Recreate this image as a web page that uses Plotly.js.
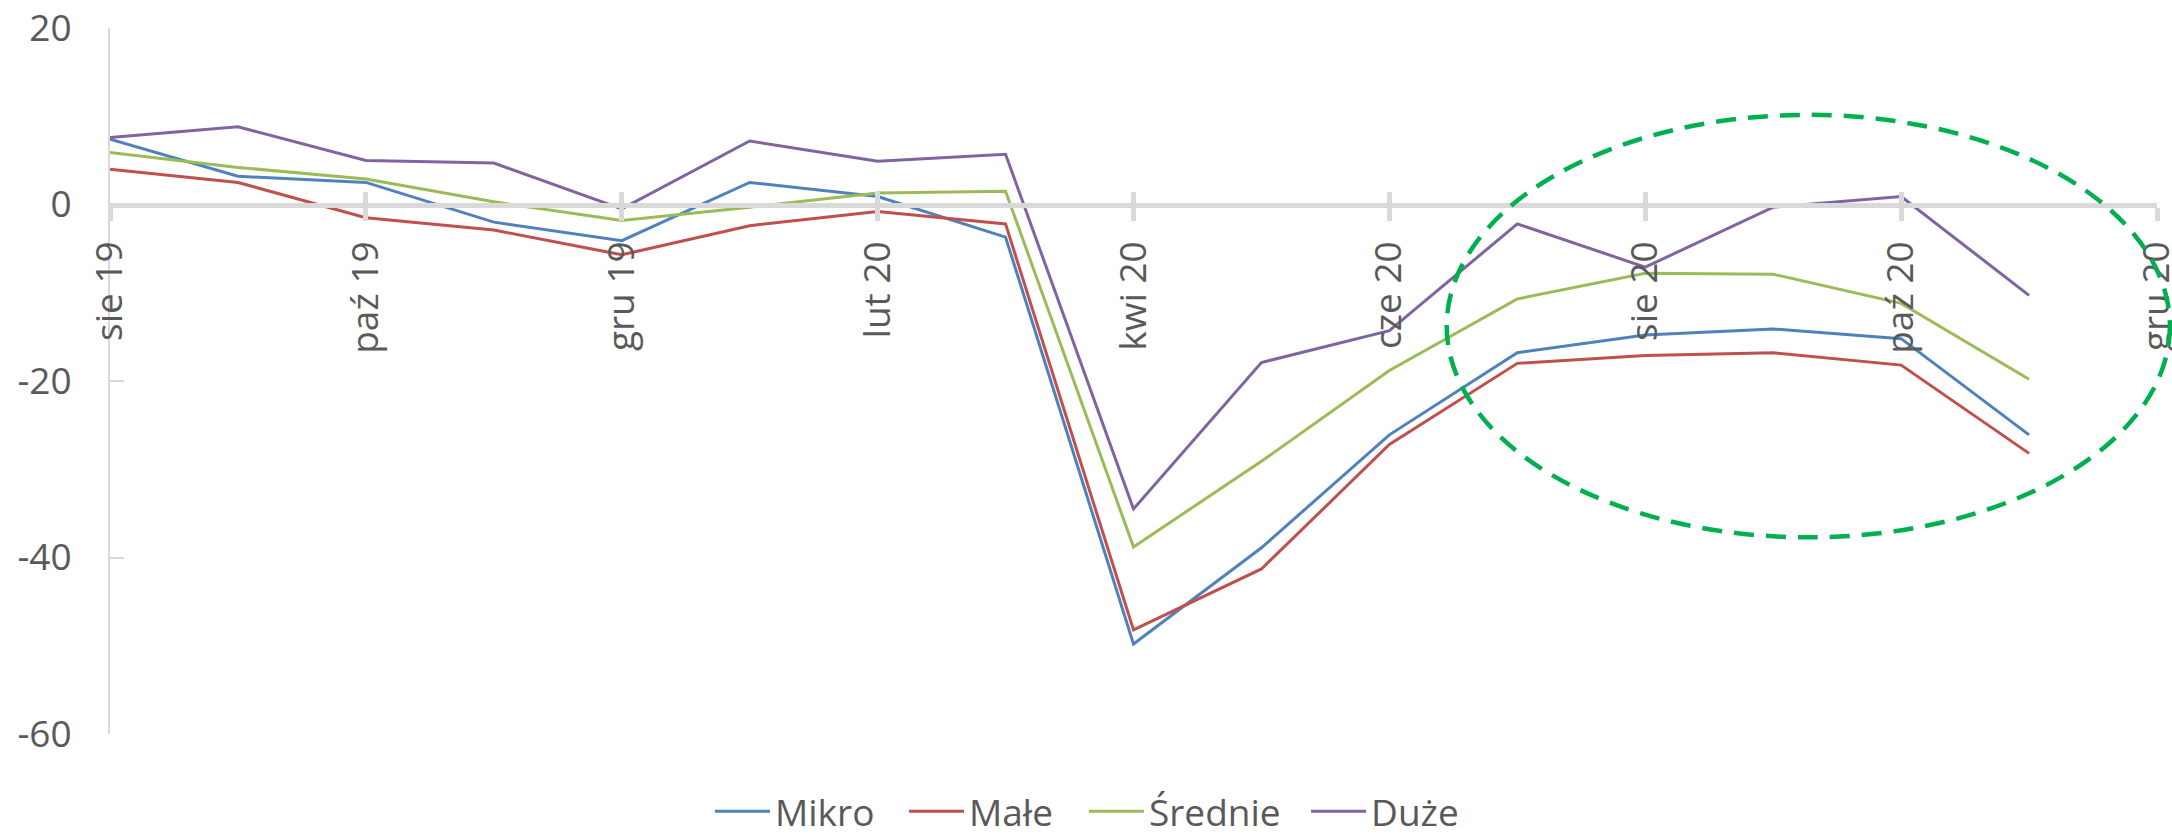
<!DOCTYPE html>
<html>
<head>
<meta charset="utf-8">
<script src="https://cdn.plot.ly/plotly-3.0.1.min.js"></script>
<style>html,body{margin:0;padding:0;background:#fff;}#chart{width:2172px;height:836px;}</style>
</head>
<body>
<div id="chart"></div>
<script>
// Categories (months) with data
const months = ['sie 19','wrz 19','paź 19','lis 19','gru 19','sty 20','lut 20','mar 20','kwi 20','maj 20','cze 20','lip 20','sie 20','wrz 20','paź 20','lis 20'];
// Full axis categories (axis runs to gru 20)
const axisCategories = ['sie 19','wrz 19','paź 19','lis 19','gru 19','sty 20','lut 20','mar 20','kwi 20','maj 20','cze 20','lip 20','sie 20','wrz 20','paź 20','lis 20','gru 20'];
// Tick labels shown on the x axis
const tickLabels = ['sie 19','paź 19','gru 19','lut 20','kwi 20','cze 20','sie 20','paź 20','gru 20'];
// Y axis ticks
const yTickValues = [-60, -40, -20, 0, 20];
const yTickLabels = ['-60', '-40', '-20', '0', '20'];

// Series values
const mikro   = [7.4, 3.2, 2.5, -2.0, -4.1, 2.5, 0.9, -3.7, -49.8, -38.9, -26.1, -16.8, -14.8, -14.1, -15.2, -26.1];
const male    = [4.0, 2.5, -1.5, -2.9, -5.7, -2.4, -0.8, -2.2, -48.2, -41.3, -27.2, -18.0, -17.1, -16.8, -18.2, -28.2];
const srednie = [5.9, 4.2, 2.9, 0.3, -1.8, -0.3, 1.3, 1.5, -38.8, -29.1, -18.8, -10.7, -7.8, -7.9, -11.2, -19.8];
const duze    = [7.6, 8.8, 5.0, 4.7, -0.5, 7.2, 4.9, 5.7, -34.5, -17.9, -14.3, -2.2, -7.1, -0.3, 0.9, -10.3];

const seriesNames = ['Mikro','Małe','Średnie','Duże'];
const seriesColors = ['#4F81BD','#C0504D','#9BBB59','#8064A2'];
const seriesValues = [mikro, male, srednie, duze];

const FONT = '"Open Sans", "Noto Sans", sans-serif';
const GREY = '#595959';
const AXC = '#D9D9D9';

const legendIds = ['legend', 'legend2', 'legend3', 'legend4'];
const legendX = [0.2931, 0.3879, 0.4758, 0.5843];

const traces = seriesValues.map((vals, i) => ({
  type: 'scatter', mode: 'lines',
  x: months, y: vals, name: seriesNames[i],
  line: {color: seriesColors[i], width: 3},
  legend: legendIds[i],
  hoverinfo: 'skip'
}));
// invisible helpers to register all axis categories
traces.unshift({type:'scatter', mode:'lines', x: axisCategories, y: axisCategories.map(() => null),
  showlegend:false, hoverinfo:'skip', line:{width:0}});
traces.push({type:'scatter', mode:'lines', x: axisCategories, y: axisCategories.map(() => null),
  xaxis:'x2', showlegend:false, hoverinfo:'skip', line:{width:0}});

const layout = {
  width: 2172, height: 836,
  margin: {l: 110, r: 15, t: 28, b: 102, autoexpand: false},
  paper_bgcolor: '#fff', plot_bgcolor: '#fff',
  font: {family: FONT, color: GREY, size: 36},
  showlegend: true,
  xaxis: {
    type: 'category', categoryorder: 'array', categoryarray: axisCategories,
    range: [0, 16], anchor: 'free', position: 0.75,
    showline: true, linecolor: AXC, linewidth: 5,
    ticks: 'outside', ticklen: 13, tickwidth: 5, tickcolor: AXC,
    tickmode: 'array', tickvals: tickLabels, ticktext: tickLabels,
    tickangle: -90, tickfont: {family: FONT, size: 37, color: GREY},
    ticklabelstandoff: 6,
    showgrid: false, zeroline: false, automargin: false, fixedrange: true
  },
  xaxis2: {
    type: 'category', categoryorder: 'array', categoryarray: axisCategories,
    range: [0, 16], overlaying: 'x', anchor: 'free', position: 0.75, side: 'bottom',
    showline: false, ticks: 'inside', ticklen: 13, tickwidth: 5, tickcolor: AXC,
    tickmode: 'array', tickvals: tickLabels, showticklabels: false,
    showgrid: false, zeroline: false, automargin: false, fixedrange: true
  },
  yaxis: {
    range: [-60, 20], tickmode: 'array', tickvals: yTickValues, ticktext: yTickLabels,
    showline: true, linecolor: AXC, linewidth: 2,
    ticks: 'inside', ticklen: 14, tickwidth: 2, tickcolor: AXC,
    tickfont: {family: FONT, size: 37, color: GREY},
    ticklabelstandoff: 29,
    showgrid: false, zeroline: false, automargin: false, fixedrange: true
  },
  shapes: [{
    type: 'circle', xref: 'paper', yref: 'paper',
    x0: 0.653, x1: 1.0063, y0: 0.2786, y1: 0.877,
    line: {color: '#00B050', width: 4.5, dash: '20px,12px'},
    fillcolor: 'rgba(0,0,0,0)', layer: 'above'
  }]
};
legendIds.forEach((id, i) => {
  layout[id] = {orientation: 'h', x: legendX[i], xanchor: 'left', y: -0.110, yanchor: 'middle',
    itemwidth: 55, font: {family: FONT, size: 37, color: GREY}, bgcolor: 'rgba(0,0,0,0)'};
});

Plotly.newPlot('chart', traces, layout, {staticPlot: true, displayModeBar: false});
</script>
</body>
</html>
